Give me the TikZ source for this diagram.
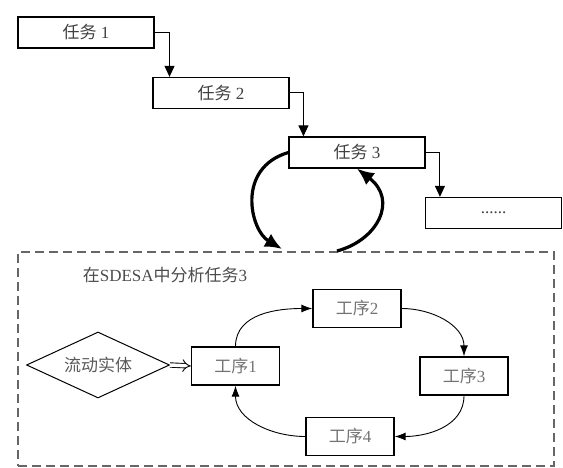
\documentclass[tikz,border=0pt]{standalone}
\usepackage{fontspec}
\setmainfont{Liberation Serif}
\newfontfamily\cjk{Noto Sans CJK SC}
\usetikzlibrary{arrows.meta,shapes.geometric,calc}

\begin{document}
\begin{tikzpicture}[x=1pt,y=1pt,line width=0.8pt,
  taskbox/.style={draw,line width=1.3pt,minimum width=136pt,minimum height=31pt,inner sep=0pt,font=\fontsize{17}{19}\selectfont,text=black!75},
  procbox/.style={draw,line width=1.3pt,minimum width=88pt,minimum height=38pt,inner sep=0pt,font=\fontsize{17}{19}\selectfont,text=black!55},
  elbow/.style={-{Triangle[length=11pt,width=10pt]},line width=1pt},
  flow/.style={-{Latex[length=11pt,width=8pt]},line width=0.9pt},
  bigarrow/.style={-{Latex[length=17pt,width=15pt]},line width=3.2pt}]
  \useasboundingbox (0,0) rectangle (563,468);
  \node[taskbox] (t1) at (86,435.5) {{\cjk 任务} 1};
  \node[taskbox] (t2) at (221,375) {{\cjk 任务} 2};
  \node[taskbox] (t3) at (357,315.5) {{\cjk 任务} 3};
  \node[taskbox] (t4) at (493.5,255) {......};
  \draw[elbow] (t1.east) -| ($(t2.north west)!0.125!(t2.north east)$);
  \draw[elbow] (t2.east) -| ($(t3.north west)!0.11!(t3.north east)$);
  \draw[elbow] (t3.east) -| ($(t4.north west)!0.11!(t4.north east)$);
  \node[draw,dashed,dash pattern=on 9pt off 5pt,draw=black!60,line width=1.8pt,minimum width=536pt,minimum height=214pt] (frame) at (286,109) {};
  \node[font=\fontsize{17}{19}\selectfont,text=black!70] (title) at (165,193) {{\cjk 在}SDESA{\cjk 中分析任务}3};
  \coordinate (inL) at (282,219);
  \coordinate (outR) at (337,217);
  \draw[bigarrow] (t3.west) .. controls (236,300) and (250,238) .. (inL);
  \draw[bigarrow] (outR) .. controls (378,228) and (398,268) .. (t3.south);
  \node[draw,diamond,aspect=2.2,inner sep=0pt,minimum width=143pt,minimum height=66pt,line width=1pt,font=\fontsize{17}{19}\selectfont\cjk,text=black!65] (ent) at (98,103) {流动实体};
  \node[procbox] (p1) at (235.5,102) {{\cjk 工序}1};
  \node[procbox] (p2) at (357,159.5) {{\cjk 工序}2};
  \node[procbox] (p3) at (464,92) {{\cjk 工序}3};
  \node[procbox] (p4) at (350,31.5) {{\cjk 工序}4};
  \draw[double,double distance=3.5pt,line width=0.9pt,-{Implies}] (ent.east) -- (p1.west);
  \draw[flow] (p1.north) to[out=90,in=180] (p2.west);
  \draw[flow] (p2.east) to[out=0,in=90] (p3.north);
  \draw[flow] (p3.south) to[out=-90,in=0] (p4.east);
  \draw[flow] (p4.west) to[out=180,in=-90] (p1.south);
\end{tikzpicture}
\end{document}
